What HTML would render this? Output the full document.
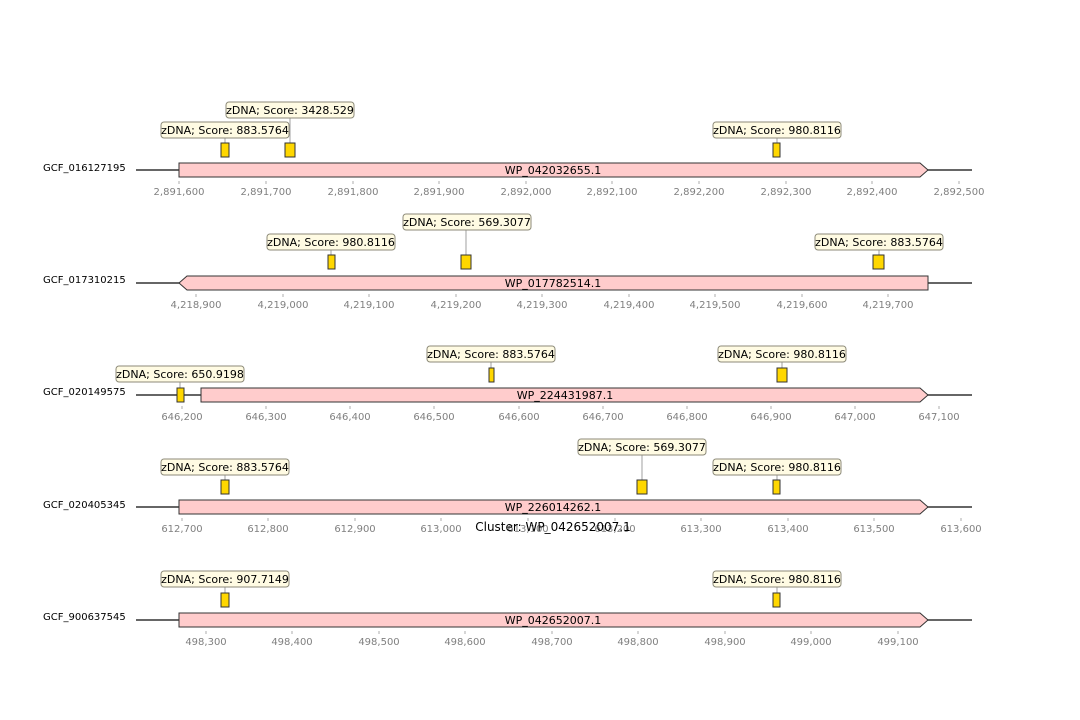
<!DOCTYPE html>
<html><head><meta charset="utf-8"><style>body{margin:0;background:#fff}svg{display:block}</style></head><body>
<svg width="1080" height="720" xmlns="http://www.w3.org/2000/svg" font-family="DejaVu Sans, Liberation Sans, sans-serif">
<defs>
<g id="lb"><rect x="-64" y="-8" width="128" height="16" rx="3" fill="#fffbe3" stroke="#8c8a78" stroke-width="1"/></g>
<g id="lbw"><rect x="-66" y="-8" width="132" height="16" rx="3" fill="#fffbe3" stroke="#8c8a78" stroke-width="1"/></g>
</defs>
<style>
.tk{font-size:10px;fill:#808080;text-anchor:middle}
.nm{font-size:10px;fill:#000}
.gl{font-size:11px;fill:#000;text-anchor:middle}
.lt{font-size:11px;fill:#000;text-anchor:middle}
.ln{stroke:#333;stroke-width:1.5}
.gn{fill:#ffcccc;stroke:#333;stroke-width:1}
.ft{fill:#ffd700;stroke:#333;stroke-width:1}
.cn{stroke:#888;stroke-width:0.8}
.tm{stroke:#999;stroke-width:0.8}
</style>

<!-- Track 1 -->
<text class="nm" x="43" y="171">GCF_016127195</text>
<line class="ln" x1="136" y1="170" x2="972" y2="170"/>
<polygon class="gn" points="179,163 920,163 928,170 920,177 179,177"/>
<text class="gl" x="553" y="174">WP_042032655.1</text>
<g class="tm"><line x1="179" y1="181" x2="179" y2="184"/><line x1="266" y1="181" x2="266" y2="184"/><line x1="353" y1="181" x2="353" y2="184"/><line x1="439" y1="181" x2="439" y2="184"/><line x1="526" y1="181" x2="526" y2="184"/><line x1="612" y1="181" x2="612" y2="184"/><line x1="699" y1="181" x2="699" y2="184"/><line x1="786" y1="181" x2="786" y2="184"/><line x1="872" y1="181" x2="872" y2="184"/><line x1="959" y1="181" x2="959" y2="184"/></g>
<g class="tk"><text x="179" y="195">2,891,600</text><text x="266" y="195">2,891,700</text><text x="353" y="195">2,891,800</text><text x="439" y="195">2,891,900</text><text x="526" y="195">2,892,000</text><text x="612" y="195">2,892,100</text><text x="699" y="195">2,892,200</text><text x="786" y="195">2,892,300</text><text x="872" y="195">2,892,400</text><text x="959" y="195">2,892,500</text></g>
<line class="cn" x1="225" y1="138" x2="225" y2="143"/><line class="cn" x1="290" y1="118" x2="290" y2="143"/><line class="cn" x1="777" y1="138" x2="777" y2="143"/>
<rect class="ft" x="221" y="143" width="8" height="14"/><rect class="ft" x="285" y="143" width="10" height="14"/><rect class="ft" x="773" y="143" width="7" height="14"/>
<use href="#lb" x="225" y="130"/><text class="lt" x="225" y="134">zDNA; Score: 883.5764</text>
<use href="#lb" x="290" y="110"/><text class="lt" x="290" y="114">zDNA; Score: 3428.529</text>
<use href="#lb" x="777" y="130"/><text class="lt" x="777" y="134">zDNA; Score: 980.8116</text>

<!-- Track 2 -->
<text class="nm" x="43" y="283">GCF_017310215</text>
<line class="ln" x1="136" y1="283" x2="972" y2="283"/>
<polygon class="gn" points="187,276 928,276 928,290 187,290 179,283"/>
<text class="gl" x="553" y="287">WP_017782514.1</text>
<g class="tm"><line x1="196" y1="294" x2="196" y2="297"/><line x1="283" y1="294" x2="283" y2="297"/><line x1="369" y1="294" x2="369" y2="297"/><line x1="456" y1="294" x2="456" y2="297"/><line x1="542" y1="294" x2="542" y2="297"/><line x1="629" y1="294" x2="629" y2="297"/><line x1="715" y1="294" x2="715" y2="297"/><line x1="802" y1="294" x2="802" y2="297"/><line x1="888" y1="294" x2="888" y2="297"/></g>
<g class="tk"><text x="196" y="308">4,218,900</text><text x="283" y="308">4,219,000</text><text x="369" y="308">4,219,100</text><text x="456" y="308">4,219,200</text><text x="542" y="308">4,219,300</text><text x="629" y="308">4,219,400</text><text x="715" y="308">4,219,500</text><text x="802" y="308">4,219,600</text><text x="888" y="308">4,219,700</text></g>
<line class="cn" x1="331" y1="250" x2="331" y2="255"/><line class="cn" x1="466" y1="230" x2="466" y2="255"/><line class="cn" x1="879" y1="250" x2="879" y2="255"/>
<rect class="ft" x="328" y="255" width="7" height="14"/><rect class="ft" x="461" y="255" width="10" height="14"/><rect class="ft" x="873" y="255" width="11" height="14"/>
<use href="#lb" x="331" y="242"/><text class="lt" x="331" y="246">zDNA; Score: 980.8116</text>
<use href="#lb" x="467" y="222"/><text class="lt" x="467" y="226">zDNA; Score: 569.3077</text>
<use href="#lb" x="879" y="242"/><text class="lt" x="879" y="246">zDNA; Score: 883.5764</text>

<!-- Track 3 -->
<text class="nm" x="43" y="395">GCF_020149575</text>
<line class="ln" x1="136" y1="395" x2="972" y2="395"/>
<polygon class="gn" points="201,388 920,388 928,395 920,402 201,402"/>
<text class="gl" x="565" y="399">WP_224431987.1</text>
<g class="tm"><line x1="182" y1="406" x2="182" y2="409"/><line x1="266" y1="406" x2="266" y2="409"/><line x1="350" y1="406" x2="350" y2="409"/><line x1="434" y1="406" x2="434" y2="409"/><line x1="519" y1="406" x2="519" y2="409"/><line x1="603" y1="406" x2="603" y2="409"/><line x1="687" y1="406" x2="687" y2="409"/><line x1="771" y1="406" x2="771" y2="409"/><line x1="855" y1="406" x2="855" y2="409"/><line x1="939" y1="406" x2="939" y2="409"/></g>
<g class="tk"><text x="182" y="420">646,200</text><text x="266" y="420">646,300</text><text x="350" y="420">646,400</text><text x="434" y="420">646,500</text><text x="519" y="420">646,600</text><text x="603" y="420">646,700</text><text x="687" y="420">646,800</text><text x="771" y="420">646,900</text><text x="855" y="420">647,000</text><text x="939" y="420">647,100</text></g>
<line class="cn" x1="180" y1="382" x2="180" y2="388"/><line class="cn" x1="491" y1="362" x2="491" y2="368"/><line class="cn" x1="782" y1="362" x2="782" y2="368"/>
<rect class="ft" x="177" y="388" width="7" height="14"/><rect class="ft" x="489" y="368" width="5" height="14"/><rect class="ft" x="777" y="368" width="10" height="14"/>
<use href="#lb" x="180" y="374"/><text class="lt" x="180" y="378">zDNA; Score: 650.9198</text>
<use href="#lb" x="491" y="354"/><text class="lt" x="491" y="358">zDNA; Score: 883.5764</text>
<use href="#lb" x="782" y="354"/><text class="lt" x="782" y="358">zDNA; Score: 980.8116</text>

<!-- Track 4 -->
<text class="nm" x="43" y="508">GCF_020405345</text>
<line class="ln" x1="136" y1="507" x2="972" y2="507"/>
<polygon class="gn" points="179,500 920,500 928,507 920,514 179,514"/>
<text class="gl" x="553" y="511">WP_226014262.1</text>
<g class="tm"><line x1="182" y1="518" x2="182" y2="521"/><line x1="268" y1="518" x2="268" y2="521"/><line x1="355" y1="518" x2="355" y2="521"/><line x1="441" y1="518" x2="441" y2="521"/><line x1="528" y1="518" x2="528" y2="521"/><line x1="615" y1="518" x2="615" y2="521"/><line x1="701" y1="518" x2="701" y2="521"/><line x1="788" y1="518" x2="788" y2="521"/><line x1="874" y1="518" x2="874" y2="521"/><line x1="961" y1="518" x2="961" y2="521"/></g>
<g class="tk"><text x="182" y="532">612,700</text><text x="268" y="532">612,800</text><text x="355" y="532">612,900</text><text x="441" y="532">613,000</text><text x="528" y="532">613,100</text><text x="615" y="532">613,200</text><text x="701" y="532">613,300</text><text x="788" y="532">613,400</text><text x="874" y="532">613,500</text><text x="961" y="532">613,600</text></g>
<text x="553" y="531" font-size="12" text-anchor="middle" fill="#000">Cluster: WP_042652007.1</text>
<line class="cn" x1="225" y1="475" x2="225" y2="480"/><line class="cn" x1="642" y1="455" x2="642" y2="480"/><line class="cn" x1="777" y1="475" x2="777" y2="480"/>
<rect class="ft" x="221" y="480" width="8" height="14"/><rect class="ft" x="637" y="480" width="10" height="14"/><rect class="ft" x="773" y="480" width="7" height="14"/>
<use href="#lb" x="225" y="467"/><text class="lt" x="225" y="471">zDNA; Score: 883.5764</text>
<use href="#lb" x="642" y="447"/><text class="lt" x="642" y="451">zDNA; Score: 569.3077</text>
<use href="#lb" x="777" y="467"/><text class="lt" x="777" y="471">zDNA; Score: 980.8116</text>

<!-- Track 5 -->
<text class="nm" x="43" y="620">GCF_900637545</text>
<line class="ln" x1="136" y1="620" x2="972" y2="620"/>
<polygon class="gn" points="179,613 920,613 928,620 920,627 179,627"/>
<text class="gl" x="553" y="624">WP_042652007.1</text>
<g class="tm"><line x1="206" y1="631" x2="206" y2="634"/><line x1="292" y1="631" x2="292" y2="634"/><line x1="379" y1="631" x2="379" y2="634"/><line x1="465" y1="631" x2="465" y2="634"/><line x1="552" y1="631" x2="552" y2="634"/><line x1="638" y1="631" x2="638" y2="634"/><line x1="725" y1="631" x2="725" y2="634"/><line x1="811" y1="631" x2="811" y2="634"/><line x1="898" y1="631" x2="898" y2="634"/></g>
<g class="tk"><text x="206" y="645">498,300</text><text x="292" y="645">498,400</text><text x="379" y="645">498,500</text><text x="465" y="645">498,600</text><text x="552" y="645">498,700</text><text x="638" y="645">498,800</text><text x="725" y="645">498,900</text><text x="811" y="645">499,000</text><text x="898" y="645">499,100</text></g>
<line class="cn" x1="225" y1="587" x2="225" y2="593"/><line class="cn" x1="777" y1="587" x2="777" y2="593"/>
<rect class="ft" x="221" y="593" width="8" height="14"/><rect class="ft" x="773" y="593" width="7" height="14"/>
<use href="#lb" x="225" y="579"/><text class="lt" x="225" y="583">zDNA; Score: 907.7149</text>
<use href="#lb" x="777" y="579"/><text class="lt" x="777" y="583">zDNA; Score: 980.8116</text>
</svg>
</body></html>
